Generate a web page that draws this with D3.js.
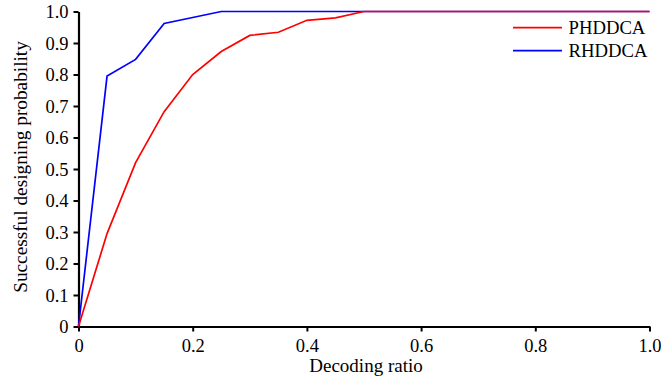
<!DOCTYPE html>
<html><head><meta charset="utf-8">
<script src="https://cdn.jsdelivr.net/npm/d3@7"></script>
<style>body{margin:0;background:#fff}svg{display:block}text{font-family:"Liberation Serif","Times New Roman",serif}</style>
</head><body><svg id="c" width="661" height="381"></svg>
<script>
const xTicks=[0,0.2,0.4,0.6,0.8,1.0];
const yTicks=[0,0.1,0.2,0.3,0.4,0.5,0.6,0.7,0.8,0.9,1.0];
const phX=[0,0.05,0.1,0.15,0.2,0.25,0.3,0.35,0.4,0.45,0.5,0.6,0.7,0.8,0.9,1.0];
const phY=[0,0.295,0.52,0.682,0.80,0.873,0.924,0.934,0.972,0.98,1.0,1.0,1.0,1.0,1.0,1.0];
const rhX=[0,0.05,0.1,0.15,0.25,0.5,1.0];
const rhY=[0,0.795,0.848,0.962,1.0,1.0,1.0];
const names=["PHDDCA","RHDDCA"];
const colors=["#ff0000","#0000ff"];

const svg=d3.select("#c");
const x=d3.scaleLinear().domain([0,1]).range([78.5,649.5]);
const y=d3.scaleLinear().domain([0,1]).range([326.5,11.5]);

const xa=svg.append("g").attr("transform","translate(0,326.5)")
 .call(d3.axisBottom(x).tickValues(xTicks).tickFormat(d=>d===0?"0":d3.format(".1f")(d)).tickSize(5).tickSizeOuter(0));
const ya=svg.append("g").attr("transform","translate(78.5,0)")
 .call(d3.axisLeft(y).tickValues(yTicks).tickFormat(d=>d===0?"0":d3.format(".1f")(d)).tickSize(5).tickSizeOuter(0));
[xa,ya].forEach(a=>{
 a.select(".domain").attr("stroke","#000").attr("stroke-width",2.2);
 a.selectAll(".tick line").attr("stroke","#000").attr("stroke-width",2);
 a.selectAll(".tick text").attr("font-size",18.5).attr("fill","#000").attr("font-family","Liberation Serif");
});
xa.selectAll(".tick text").attr("dy",0).attr("y",25.5);
ya.selectAll(".tick text").attr("x",-10).attr("dy","0.33em");

const line=d3.line().x(d=>x(d[0])).y(d=>y(d[1]));
const series=[d3.zip(phX,phY),d3.zip(rhX,rhY)];
svg.append("path").datum(series[1]).attr("d",line).attr("fill","none").attr("stroke",colors[1]).attr("stroke-width",1.7);
svg.append("path").datum(series[0]).attr("d",line).attr("fill","none").attr("stroke",colors[0]).attr("stroke-width",1.7);

names.forEach((n,i)=>{
 const ly=27.7+i*23;
 svg.append("line").attr("x1",513).attr("x2",562).attr("y1",ly).attr("y2",ly).attr("stroke",colors[i]).attr("stroke-width",1.7);
 svg.append("text").attr("x",568.5).attr("y",ly+6.3).attr("font-size",18.7).text(n);
});

svg.append("text").attr("x",366).attr("y",372).attr("text-anchor","middle").attr("font-size",19).text("Decoding ratio");
svg.append("text").attr("transform","translate(27,167) rotate(-90)").attr("text-anchor","middle").attr("font-size",19.3).text("Successful designing probability");
</script></body></html>
